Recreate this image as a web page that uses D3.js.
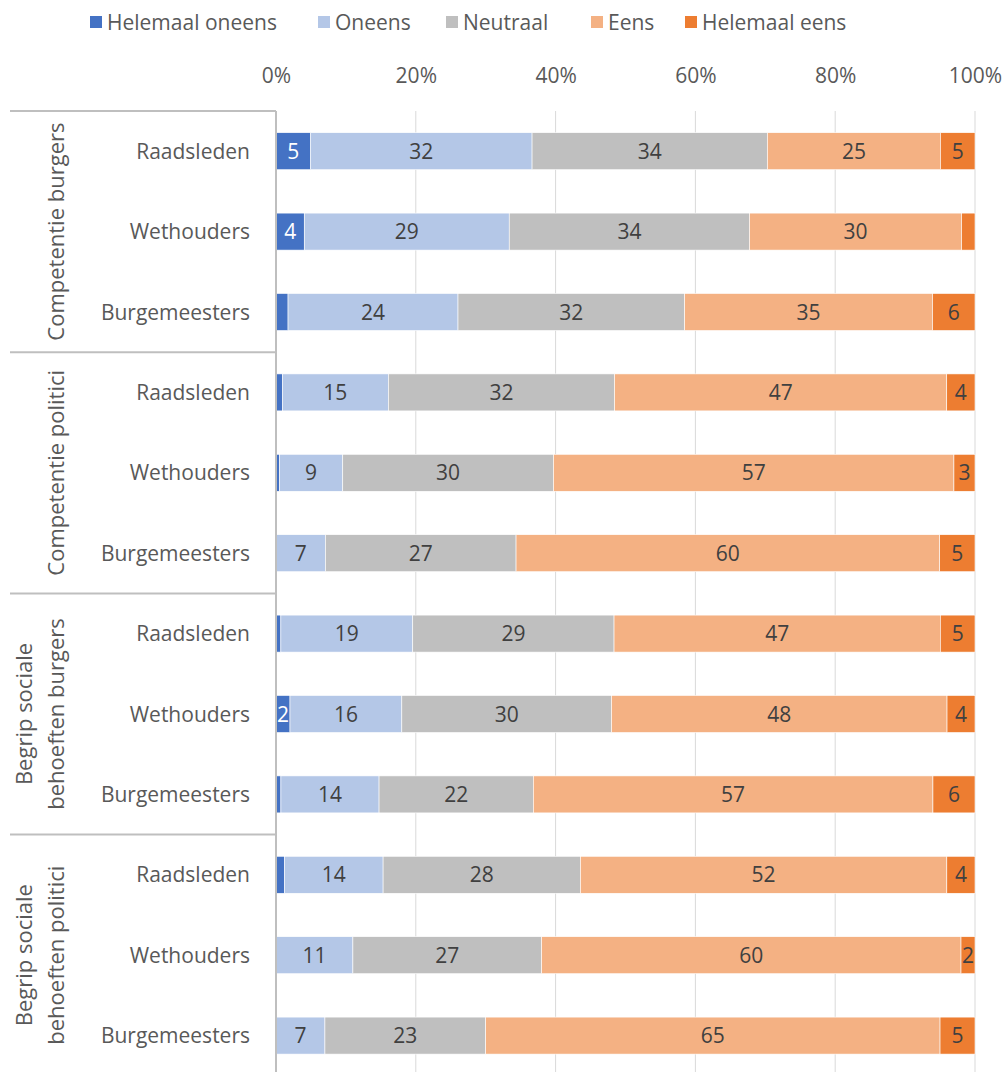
<!DOCTYPE html>
<html>
<head>
<meta charset="utf-8">
<script src="https://cdn.jsdelivr.net/npm/d3@7"></script>
<style>
  body { margin: 0; background: #fff; }
  text { font-family: "Open Sans", sans-serif; fill: #595959; }
  .txt_row { font-size: 21px; }
  .txt_group { font-size: 22px; }
  .txt_seg { font-size: 21px; fill: #404040; }
</style>
</head>
<body>
<div id="chart"></div>
<script>
/*data*/
var groupNames = [["Competentie burgers"], ["Competentie politici"],
                  ["Begrip sociale", "behoeften burgers"], ["Begrip sociale", "behoeften politici"]];
var roles = ["Raadsleden", "Wethouders", "Burgemeesters"];
var seriesNames = ["Helemaal oneens", "Oneens", "Neutraal", "Eens", "Helemaal eens"];

var helemaalOneens = [5, 4, 1.7, 0.9, 0.5, 0, 0.7, 2, 0.7, 1.2, 0, 0];
var oneens         = [32, 29, 24, 15, 9, 7, 19, 16, 14, 14, 11, 7];
var neutraal       = [34, 34, 32, 32, 30, 27, 29, 30, 22, 28, 27, 23];
var eens           = [25, 30, 35, 47, 57, 60, 47, 48, 57, 52, 60, 65];
var helemaalEens   = [5, 1.9, 6, 4, 3, 5, 5, 4, 6, 4, 2, 5];
var xTicks = [0, 0.2, 0.4, 0.6, 0.8, 1];

var colors = ["#4472C4", "#B4C7E7", "#BFBFBF", "#F4B183", "#ED7D31"];

var width = 1006, height = 1072;
var plotLeft = 276, plotRight = 975, plotTop = 111;

var svg = d3.select("#chart")
            .append("svg")
            .attr("width", width)
            .attr("height", height);

/*rows*/
var rows = [];
for (var i = 0; i < 12; i++) {
  rows.push({
    "id": i,
    "group": Math.floor(i / 3),
    "role": roles[i % 3],
    "Helemaal oneens": helemaalOneens[i],
    "Oneens": oneens[i],
    "Neutraal": neutraal[i],
    "Eens": eens[i],
    "Helemaal eens": helemaalEens[i]
  });
}

var stacked = d3.stack()
                .keys(seriesNames)
                .offset(d3.stackOffsetExpand)(rows);

var x = d3.scaleLinear().domain([0, 1]).range([plotLeft, plotRight]);
var y = d3.scaleBand()
          .domain(d3.range(12))
          .range([plotTop, plotTop + 12 * 80.4])
          .paddingInner(0.54)
          .paddingOuter(0.27);

/*gridlines*/
svg.selectAll("line.grid")
   .data(xTicks.slice(1))
   .enter()
   .append("line")
   .attr("class", "grid")
   .attr("x1", function(d) { return x(d); })
   .attr("x2", function(d) { return x(d); })
   .attr("y1", plotTop)
   .attr("y2", height)
   .attr("stroke", "#d9d9d9")
   .attr("stroke-width", 1);

/*top axis labels*/
var axis = svg.append("g")
              .attr("transform", "translate(0,86)")
              .call(d3.axisTop(x).tickValues(xTicks).tickFormat(d3.format(".0%")).tickSize(0));
axis.select(".domain").remove();
axis.selectAll("text")
    .attr("dy", "0")
    .style("font-family", "'Open Sans', sans-serif")
    .style("font-size", "21px")
    .style("fill", "#595959");

/*bars*/
var layer = svg.selectAll("g.layer")
               .data(stacked)
               .enter()
               .append("g")
               .attr("class", "layer")
               .attr("fill", function(d, i) { return colors[i]; });

layer.selectAll("rect")
     .data(function(d) { return d; })
     .enter()
     .append("rect")
     .attr("x", function(d) { return x(d[0]); })
     .attr("y", function(d) { return y(d.data.id); })
     .attr("width", function(d) { return x(d[1]) - x(d[0]); })
     .attr("height", y.bandwidth())
     .attr("stroke", "#fff")
     .attr("stroke-width", 0.6);

/*segment labels*/
layer.each(function(s, si) {
  d3.select(this).selectAll("text")
    .data(s.filter(function(d) { return d.data[s.key] >= 2; }))
    .enter()
    .append("text")
    .attr("class", "txt_seg")
    .attr("x", function(d) { return (x(d[0]) + x(d[1])) / 2; })
    .attr("y", function(d) { return y(d.data.id) + y.bandwidth() / 2; })
    .attr("dy", "0.36em")
    .attr("text-anchor", "middle")
    .style("fill", si == 0 ? "#fff" : "#404040")
    .text(function(d) { return d.data[s.key]; });
});

/*0% axis line*/
svg.append("line")
   .attr("x1", plotLeft).attr("x2", plotLeft)
   .attr("y1", plotTop).attr("y2", height)
   .attr("stroke", "#bfbfbf")
   .attr("stroke-width", 2);

/*row labels*/
svg.selectAll("text.role")
   .data(rows)
   .enter()
   .append("text")
   .attr("class", "txt_row role")
   .attr("x", 250)
   .attr("y", function(d) { return y(d.id) + y.bandwidth() / 2; })
   .attr("dy", "0.36em")
   .attr("text-anchor", "end")
   .text(function(d) { return d.role; });

/*group separators*/
svg.selectAll("line.sep")
   .data(d3.range(4))
   .enter()
   .append("line")
   .attr("class", "sep")
   .attr("x1", 10).attr("x2", plotLeft)
   .attr("y1", function(d) { return plotTop + d * 3 * y.step(); })
   .attr("y2", function(d) { return plotTop + d * 3 * y.step(); })
   .attr("stroke", "#bfbfbf")
   .attr("stroke-width", 2);

/*group labels*/
groupNames.forEach(function(lines, g) {
  var cy = plotTop + (g * 3 + 1.5) * y.step();
  lines.forEach(function(line, li) {
    var bx = 69 - (lines.length - 1 - li) * 32;
    svg.append("text")
       .attr("class", "txt_group")
       .attr("transform", "translate(" + bx + "," + cy + ") rotate(-90)")
       .attr("text-anchor", "middle")
       .attr("dy", "-0.25em")
       .text(line);
  });
});

/*legend*/
var legendX = [90, 318, 446, 591, 685];
var legend = svg.selectAll("g.legend")
                .data(seriesNames)
                .enter()
                .append("g")
                .attr("class", "legend")
                .attr("transform", function(d, i) { return "translate(" + legendX[i] + ",16)"; });
legend.append("rect")
      .attr("width", 12)
      .attr("height", 12)
      .attr("fill", function(d, i) { return colors[i]; });
legend.append("text")
      .attr("class", "txt_row")
      .attr("x", 17)
      .attr("y", 6)
      .attr("dy", "0.36em")
      .text(function(d) { return d; });
</script>
</body>
</html>
